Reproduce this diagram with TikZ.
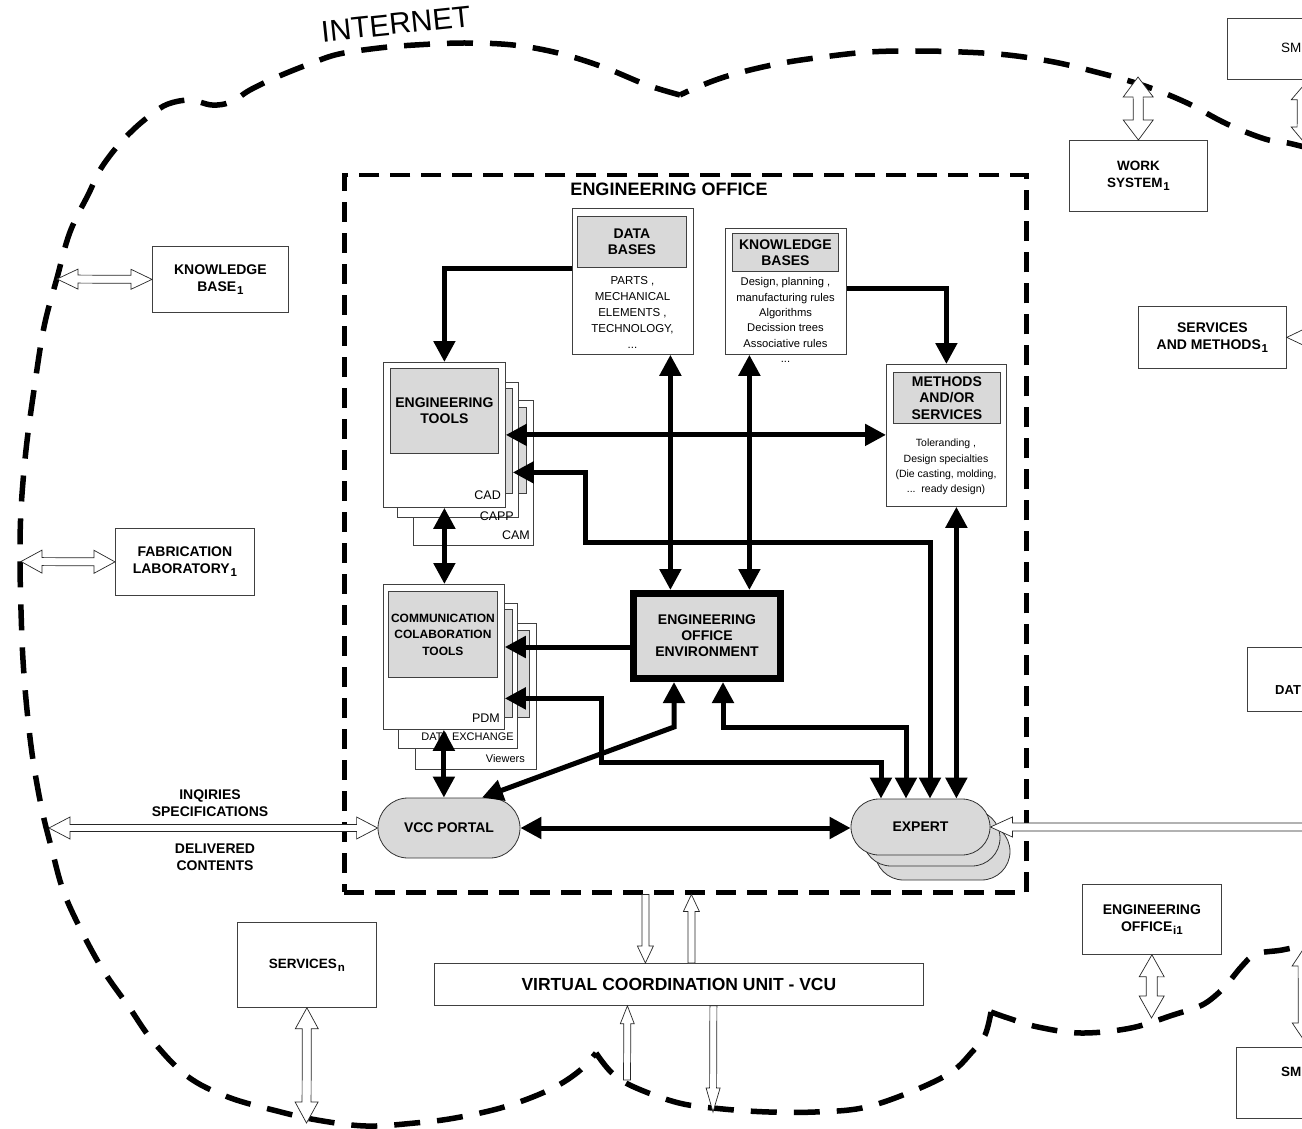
\documentclass[tikz,border=0pt]{standalone}
\usepackage{fontspec}
\setmainfont{Liberation Sans}
\usetikzlibrary{arrows.meta,shapes.misc,calc}
\newcommand\fs[2]{\fontsize{#1}{#2}\selectfont}
\newcommand\sbi[1]{\kern0.8pt\raisebox{-0.45ex}{\fs{11.5}{12}#1}}
\tikzset{
  box/.style={draw=black!75, line width=0.8pt, fill=white, inner sep=0pt, anchor=north west},
  gbox/.style={draw=black!75, line width=0.8pt, fill=black!15, inner sep=0pt, anchor=north west, align=center, font=\bfseries\fs{14}{16.5}},
  blbl/.style={font=\bfseries\fs{14}{17}, align=center},
  small/.style={font=\fs{12.5}{14}, inner sep=0pt},
  ctext/.style={align=center, inner sep=0pt},
  thk/.style={line width=5pt, -{Triangle[length=21pt,width=21pt]}},
  thkd/.style={line width=5pt, {Triangle[length=21pt,width=21pt]}-{Triangle[length=21pt,width=21pt]}},
  pill/.style={rounded rectangle, draw=black!80, line width=0.8pt, fill=black!15, inner sep=0pt, font=\bfseries\fs{14}{16}},
  hollow/.style={draw=black!85, line width=0.7pt, fill=white},
  cloudline/.style={line width=5.5pt, dash pattern=on 26pt off 17pt},
  officeline/.style={line width=4.5pt, dash pattern=on 20pt off 11pt},
}
% hollow double-headed block arrow: from, to, head length, head half width, shaft half width
\newcommand\dblblock[5]{%
\path[hollow] let \p1=(#1), \p2=(#2), \n1={veclen(\x2-\x1,\y2-\y1)}, \n2={(\x2-\x1)/\n1}, \n3={(\y2-\y1)/\n1} in
 (\x1,\y1)
 -- ({\x1+(#3)*\n2-(#4)*\n3},{\y1+(#3)*\n3+(#4)*\n2})
 -- ({\x1+(#3)*\n2-(#5)*\n3},{\y1+(#3)*\n3+(#5)*\n2})
 -- ({\x1+(\n1-#3)*\n2-(#5)*\n3},{\y1+(\n1-#3)*\n3+(#5)*\n2})
 -- ({\x1+(\n1-#3)*\n2-(#4)*\n3},{\y1+(\n1-#3)*\n3+(#4)*\n2})
 -- (\x2,\y2)
 -- ({\x1+(\n1-#3)*\n2+(#4)*\n3},{\y1+(\n1-#3)*\n3-(#4)*\n2})
 -- ({\x1+(\n1-#3)*\n2+(#5)*\n3},{\y1+(\n1-#3)*\n3-(#5)*\n2})
 -- ({\x1+(#3)*\n2+(#5)*\n3},{\y1+(#3)*\n3-(#5)*\n2})
 -- ({\x1+(#3)*\n2+(#4)*\n3},{\y1+(#3)*\n3-(#4)*\n2})
 -- cycle;}
% hollow single-headed block arrow (head at "to")
\newcommand\oneblock[5]{%
\path[hollow] let \p1=(#1), \p2=(#2), \n1={veclen(\x2-\x1,\y2-\y1)}, \n2={(\x2-\x1)/\n1}, \n3={(\y2-\y1)/\n1} in
 ({\x1-(#5)*\n3},{\y1+(#5)*\n2})
 -- ({\x1+(\n1-#3)*\n2-(#5)*\n3},{\y1+(\n1-#3)*\n3+(#5)*\n2})
 -- ({\x1+(\n1-#3)*\n2-(#4)*\n3},{\y1+(\n1-#3)*\n3+(#4)*\n2})
 -- (\x2,\y2)
 -- ({\x1+(\n1-#3)*\n2+(#4)*\n3},{\y1+(\n1-#3)*\n3-(#4)*\n2})
 -- ({\x1+(\n1-#3)*\n2+(#5)*\n3},{\y1+(\n1-#3)*\n3-(#5)*\n2})
 -- ({\x1+(#5)*\n3},{\y1-(#5)*\n2})
 -- cycle;}
\begin{document}
\begin{tikzpicture}[x=1pt,y=-1pt]
\useasboundingbox (0,0) rectangle (1302,1129);
\clip (0,0) rectangle (1302,1129);

% ---------------- Internet cloud ----------------
\draw[cloudline] plot[smooth, tension=0.6] coordinates {(1312,149) (1288,143) (1265,139) (1227,124) (1185,102) (1142,85) (1096,72) (1054,62) (1008,55) (962,52) (915,51) (869,52) (823,57) (777,64) (731,75) (700,86) (680,95)};
\draw[cloudline] plot[smooth, tension=0.6] coordinates {(680,95) (647,85) (603,67) (558,53) (513,45) (464,43) (415,45) (379,48) (339,54) (312,63) (277,77) (250,90) (231,102) (212,105) (190,100) (168,104) (152,114) (134,129) (116,148) (100,170) (89,193) (70,232) (57,278) (44,327) (34,390) (26,450) (21,510) (20,560) (21,610) (23,660) (27,710) (33,760) (42,810) (52,850) (63,890) (80,928) (103,970) (129,1007) (152,1040) (187,1076) (228,1097) (277,1111) (317,1120) (366,1126) (415,1123) (455,1118) (504,1107) (549,1090) (578,1072) (596,1053)};
\draw[cloudline] plot[smooth, tension=0.6] coordinates {(596,1053) (612,1073) (634,1087) (679,1103) (723,1109) (769,1112) (815,1112) (862,1108) (908,1093) (950,1073) (972,1052) (985,1035) (991,1012)};
\draw[cloudline] plot[smooth, tension=0.6] coordinates {(991,1012) (1008,1018) (1038,1027) (1081,1033) (1131,1028) (1173,1015) (1200,1006) (1215,996) (1228,983) (1242,966) (1256,954) (1282,950) (1310,944)};
\node[font=\fs{30}{30}, rotate=6, inner sep=0pt] (inet) at (396,24) {INTERNET};

% ---------------- Engineering office ----------------
\node[officeline, draw, inner sep=0pt, anchor=north west, minimum width=682pt, minimum height=717pt] (eo) at (342,173) {};
\node[font=\bfseries\fs{18}{20}] (eotitle) at (669,189) {ENGINEERING OFFICE};

% outer boxes
\node[box, blbl, minimum width=136pt, minimum height=66pt] (kb1) at (152,246) {KNOWLEDGE\\BASE\sbi{1}};
\node[box, blbl, minimum width=139pt, minimum height=67pt] (fl1) at (115,528) {FABRICATION\\LABORATORY\sbi{1}};
\node[box, blbl, font=\bfseries\fs{13.5}{16}, minimum width=139pt, minimum height=85pt] (srv) at (237,922) {SERVICES\sbi{n}};
\node[box, minimum width=489pt, minimum height=42pt, font=\bfseries\fs{17.5}{20}] (vcu) at (434,963) {VIRTUAL COORDINATION UNIT - VCU};
\node[box, blbl, font=\bfseries\fs{13.5}{17}, minimum width=138pt, minimum height=71pt] (ws1) at (1069,140) {WORK\\SYSTEM\sbi{1}};
\node[box, blbl, minimum width=148pt, minimum height=62pt] (sm1) at (1138,306) {SERVICES\\AND METHODS\sbi{1}};
\node[box, minimum width=100pt, minimum height=64pt] (dat) at (1247,647) {};
\node[anchor=west, font=\bfseries\fs{13}{15}, inner sep=0pt] (datl) at (1275,690) {DAT};
\node[box, blbl, minimum width=139pt, minimum height=70pt] (eoi) at (1082,884) {ENGINEERING\\OFFICE\sbi{i1}};
\node[box, minimum width=100pt, minimum height=61pt] (smt) at (1227,18) {};
\node[anchor=west, font=\fs{13.5}{16}, inner sep=0pt] (smtl) at (1281,48) {SM};
\node[box, minimum width=100pt, minimum height=71pt] (smb) at (1236,1047) {};
\node[anchor=west, font=\bfseries\fs{13.5}{16}, inner sep=0pt] (smbl) at (1281,1072) {SM};

% data bases
\node[box, minimum width=121pt, minimum height=146pt] (db) at (572,208) {};
\node[gbox, minimum width=109pt, minimum height=51pt] (dbg) at (577,216) {DATA\\BASES};
\node[ctext, font=\fs{11.5}{16}] (dbt) at (632.5,312) {PARTS ,\\MECHANICAL\\ELEMENTS ,\\TECHNOLOGY,\\...};

% knowledge bases
\node[box, minimum width=121pt, minimum height=126pt] (kb) at (725,228) {};
\node[gbox, minimum width=106pt, minimum height=38pt, font=\bfseries\fs{14}{16}] (kbg) at (732,233) {KNOWLEDGE\\BASES};
\node[ctext, font=\fs{11.2}{15.3}] (kbt) at (785.5,320) {Design, planning ,\\manufacturing rules\\Algorithms\\Decission trees\\Associative rules\\...};

% methods
\node[box, minimum width=120pt, minimum height=142pt] (meth) at (886,364) {};
\node[gbox, minimum width=107pt, minimum height=51pt] (methg) at (893,372) {METHODS\\AND/OR\\SERVICES};
\node[ctext, font=\fs{10.5}{15.3}] (metht) at (946,467) {Toleranding ,\\Design specialties\\(Die casting, molding,\\...\ \ ready design)};

% engineering tools stack
\node[box, minimum width=120pt, minimum height=145pt] (et3) at (413,400) {};
\node[gbox, minimum width=106pt, minimum height=86pt] (et3g) at (420,407) {};
\node[box, minimum width=121pt, minimum height=135pt] (et2) at (397,382) {};
\node[gbox, minimum width=108pt, minimum height=105pt] (et2g) at (404,388) {};
\node[box, minimum width=122pt, minimum height=145pt] (et1) at (383,362) {};
\node[gbox, minimum width=108pt, minimum height=85pt] (et1g) at (390,368) {ENGINEERING\\TOOLS};
\node[small, anchor=east] (cad) at (501,495) {CAD};
\node[small, anchor=east] (capp) at (514,516) {CAPP};
\node[small, anchor=east] (cam) at (530,535) {CAM};

% communication stack
\node[box, minimum width=121pt, minimum height=146pt] (cct3) at (415,623) {};
\node[gbox, minimum width=107pt, minimum height=87pt] (cct3g) at (422,630) {};
\node[box, minimum width=119pt, minimum height=145pt] (cct2) at (398,603) {};
\node[gbox, minimum width=107pt, minimum height=108pt] (cct2g) at (405,609) {};
\node[box, minimum width=121pt, minimum height=145pt] (cct1) at (383,584) {};
\node[gbox, minimum width=109pt, minimum height=86pt, font=\bfseries\fs{12}{16.5}] (cct1g) at (388,591) {COMMUNICATION\\COLABORATION\\TOOLS};
\node[small, anchor=east] (pdm) at (500,718) {PDM};
\node[small, anchor=east, font=\fs{11}{12}] (dex) at (514,737) {DATA EXCHANGE};
\node[small, anchor=east, font=\fs{11}{12}] (view) at (525,759) {Viewers};

% environment
\node[draw=black, line width=7pt, fill=black!15, minimum width=147pt, minimum height=85pt, inner sep=0pt, align=center, font=\bfseries\fs{14}{16}] (eoe) at (707,636) {ENGINEERING\\OFFICE\\ENVIRONMENT};

% portal and experts
\node[pill, minimum width=142pt, minimum height=60pt] (vcc) at (449,828) {VCC PORTAL};
\node[pill, minimum width=135pt, minimum height=57pt] (exp3) at (942.5,851.5) {};
\node[pill, minimum width=137pt, minimum height=56pt] (exp2) at (931.5,838) {};
\node[pill, minimum width=139pt, minimum height=56pt] (exp1) at (920.5,827) {EXPERT};

% ---------------- thick connectors ----------------
\draw[thk] ([yshift=13pt]db.west) -| (et1.north);
\draw[thk] ([yshift=3pt]kb.east) -| (meth.north);
\draw[thkd] (et1.east) -- (et1.east -| meth.west);
\draw[thkd] ([yshift=-31.5pt]et2g.east) -| ++(73,70) -| ([xshift=9.5pt]exp1.north);
\draw[thkd] ([xshift=10pt]meth.south) -- ([xshift=10pt]meth.south |- exp1.north);
\coordinate (dbx) at ([xshift=37.5pt]db.south);
\coordinate (kbx) at ([xshift=-36.5pt]kb.south);
\draw[thkd] (dbx) -- (dbx |- eoe.north);
\draw[thkd] (kbx) -- (kbx |- eoe.north);
\draw[thkd] (et1.south) -- (et1.south |- cct1.north);
\coordinate (eow) at ([yshift=-11pt]eoe.west);
\draw[thk] (eow) -- (eow -| cct1.east);
\draw[thkd] ([yshift=-41.5pt]cct1.east) -| ++(97,64) -| ([xshift=-39.5pt]exp1.north);
\draw[thkd] ([xshift=16pt]eoe.south) -- ++(0,45) -| ([xshift=-14.5pt]exp1.north);
\draw[thkd] ([xshift=-33pt]eoe.south) -- ++(0,45) -- ([xshift=33pt]vcc.north);
\draw[thkd] (cct1.south) -- (cct1.south |- vcc.north);
\draw[thkd] (vcc.east) -- (vcc.east -| exp1.west);

% ---------------- hollow connectors ----------------
\coordinate (cKB) at (57,279);
\coordinate (cFL) at (21,561.5);
\coordinate (cIQ) at (49,828);
\coordinate (cWS) at (1138,77);
\coordinate (cSM1) at (1420,337);
\coordinate (cEX) at (1340,827);
\coordinate (cSMt) at (1308,147);
\coordinate (cSMb) at (1308,942);
\coordinate (cEOi) at (1151.5,1018);
\coordinate (cSRV) at (306.5,1123);
\coordinate (sm5) at ([xshift=31pt]smt.south);
\coordinate (sm6) at ([xshift=22pt]smb.north);
\coordinate (v1) at ([xshift=-33.5pt]vcu.north);
\coordinate (v2) at ([xshift=12.5pt]vcu.north);
\coordinate (v3) at ([xshift=-51.5pt]vcu.south);
\coordinate (v4) at ([xshift=34.5pt]vcu.south);
\coordinate (cV3) at (627,1080);
\coordinate (cV4) at (713,1112);

\dblblock{cKB}{kb1.west}{21}{10}{4}
\dblblock{cFL}{fl1.west}{21}{11.5}{4}
\dblblock{cIQ}{vcc.west}{21}{11}{3.5}
\dblblock{cWS}{ws1.north}{20}{15}{5}
\dblblock{sm1.east}{cSM1}{21}{10}{4}
\oneblock{cEX}{exp1.east}{22}{10}{4}
\dblblock{sm5}{cSMt}{20}{17}{11}
\dblblock{cSMb}{sm6}{24}{16}{10}
\dblblock{eoi.south}{cEOi}{22}{12.5}{5.5}
\dblblock{srv.south}{cSRV}{21}{11.5}{4.5}
\oneblock{v1 |- eo.south}{v1}{17}{8}{3.5}
\oneblock{v2}{v2 |- eo.south}{17}{8}{3.5}
\oneblock{cV3}{v3}{18}{7}{3.5}
\oneblock{v4}{cV4}{24}{7}{3.5}

% labels on the portal arrow
\node[blbl, inner sep=0pt] (iq) at (210,803) {INQIRIES\\SPECIFICATIONS};
\node[blbl, inner sep=0pt] (dc) at (215,857) {DELIVERED\\CONTENTS};
\end{tikzpicture}
\end{document}
